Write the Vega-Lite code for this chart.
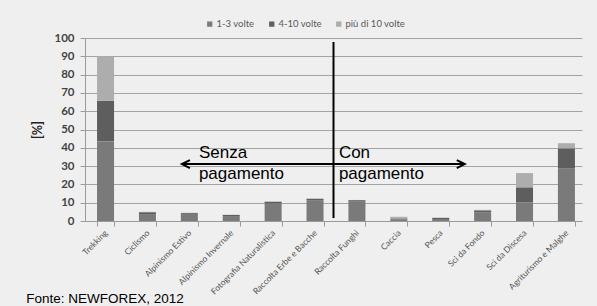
{
  "$schema": "https://vega.github.io/schema/vega-lite/v6.json",
  "width": 497,
  "height": 183,
  "autosize": {"type": "none"},
  "padding": {"left": 85, "top": 38, "right": 15, "bottom": 85},
  "background": "#efefef",
  "config": {
    "view": {"stroke": null},
    "font": "Lato",
    "axisY": {
      "titleFontSize": 12.5,
      "titleFontWeight": "bold",
      "titleColor": "#222222",
      "titlePadding": 9,
      "labelFontSize": 11.5,
      "labelFontWeight": "bold",
      "labelColor": "#444444",
      "labelPadding": 6,
      "labelOverlap": false,
      "tickColor": "#9a9a9a",
      "tickSize": 5,
      "domainColor": "#9a9a9a",
      "gridColor": "#a3a3a3",
      "gridWidth": 1
    }
  },
  "datasets": {
    "bars": [
      {"cat": "Trekking", "s": "1-3 volte", "v": 43.5},
      {"cat": "Trekking", "s": "4-10 volte", "v": 22.2},
      {"cat": "Trekking", "s": "più di 10 volte", "v": 24.3},
      {"cat": "Ciclismo", "s": "1-3 volte", "v": 3.8},
      {"cat": "Ciclismo", "s": "4-10 volte", "v": 1.0},
      {"cat": "Ciclismo", "s": "più di 10 volte", "v": 0.2},
      {"cat": "Alpinismo Estivo", "s": "1-3 volte", "v": 3.4},
      {"cat": "Alpinismo Estivo", "s": "4-10 volte", "v": 0.9},
      {"cat": "Alpinismo Estivo", "s": "più di 10 volte", "v": 0.2},
      {"cat": "Alpinismo Invernale", "s": "1-3 volte", "v": 2.7},
      {"cat": "Alpinismo Invernale", "s": "4-10 volte", "v": 0.6},
      {"cat": "Alpinismo Invernale", "s": "più di 10 volte", "v": 0.1},
      {"cat": "Fotografia Naturalistica", "s": "1-3 volte", "v": 9.6},
      {"cat": "Fotografia Naturalistica", "s": "4-10 volte", "v": 0.9},
      {"cat": "Fotografia Naturalistica", "s": "più di 10 volte", "v": 0.2},
      {"cat": "Raccolta Erbe e Bacche", "s": "1-3 volte", "v": 11.4},
      {"cat": "Raccolta Erbe e Bacche", "s": "4-10 volte", "v": 0.7},
      {"cat": "Raccolta Erbe e Bacche", "s": "più di 10 volte", "v": 0.2},
      {"cat": "Raccolta Funghi", "s": "1-3 volte", "v": 10.6},
      {"cat": "Raccolta Funghi", "s": "4-10 volte", "v": 0.8},
      {"cat": "Raccolta Funghi", "s": "più di 10 volte", "v": 0.1},
      {"cat": "Caccia", "s": "1-3 volte", "v": 0.9},
      {"cat": "Caccia", "s": "4-10 volte", "v": 0.5},
      {"cat": "Caccia", "s": "più di 10 volte", "v": 0.9},
      {"cat": "Pesca", "s": "1-3 volte", "v": 1.1},
      {"cat": "Pesca", "s": "4-10 volte", "v": 0.6},
      {"cat": "Pesca", "s": "più di 10 volte", "v": 0.1},
      {"cat": "Sci da Fondo", "s": "1-3 volte", "v": 4.8},
      {"cat": "Sci da Fondo", "s": "4-10 volte", "v": 1.0},
      {"cat": "Sci da Fondo", "s": "più di 10 volte", "v": 0.3},
      {"cat": "Sci da Discesa", "s": "1-3 volte", "v": 10.2},
      {"cat": "Sci da Discesa", "s": "4-10 volte", "v": 8.2},
      {"cat": "Sci da Discesa", "s": "più di 10 volte", "v": 7.8},
      {"cat": "Agriturismo e Malghe", "s": "1-3 volte", "v": 28.6},
      {"cat": "Agriturismo e Malghe", "s": "4-10 volte", "v": 11.1},
      {"cat": "Agriturismo e Malghe", "s": "più di 10 volte", "v": 2.8}
    ],
    "notes": [
      {"t": "Senza", "x": 2.75, "y": 34.3},
      {"t": "pagamento", "x": 2.75, "y": 23.0},
      {"t": "Con", "x": 6.13, "y": 34.3},
      {"t": "pagamento", "x": 6.13, "y": 23.0}
    ],
    "source": [{"t": "Fonte: NEWFOREX, 2012", "x": -1.42, "y": -44.8}],
    "hline": [{"x": 2.34, "x2": 9.17, "y": 31.1}],
    "vline": [{"x": 6.0, "y": 1.6, "y2": 97.8}],
    "heads": [
      {"x": 2.34, "y": 31.1, "dir": "left"},
      {"x": 9.17, "y": 31.1, "dir": "right"}
    ]
  },
  "layer": [
    {
      "data": {"name": "bars"},
      "mark": {"type": "bar"},
      "encoding": {
        "x": {
          "field": "cat",
          "type": "nominal",
          "sort": null,
          "scale": {"paddingInner": 0.594, "paddingOuter": 0.228, "align": 0.63},
          "axis": {
            "title": null,
            "labelAngle": -45,
            "labelAlign": "right",
            "labelBaseline": "middle",
            "labelFontSize": 8.5,
            "labelColor": "#555555",
            "labelPadding": 5,
            "tickBand": "extent",
            "tickColor": "#9a9a9a",
            "tickSize": 5,
            "domainColor": "#9a9a9a",
            "grid": false
          }
        },
        "y": {
          "field": "v",
          "type": "quantitative",
          "stack": "zero",
          "scale": {"domain": [0, 100], "nice": false},
          "axis": {"title": "[%]", "values": [0, 10, 20, 30, 40, 50, 60, 70, 80, 90, 100]}
        },
        "color": {
          "field": "s",
          "type": "nominal",
          "scale": {
            "domain": ["1-3 volte", "4-10 volte", "più di 10 volte"],
            "range": ["#7a7a7a", "#5e5e5e", "#adadad"]
          },
          "legend": {
            "title": null,
            "orient": "none",
            "direction": "horizontal",
            "legendX": 120,
            "legendY": -19,
            "symbolType": "square",
            "symbolSize": 28,
            "labelFontSize": 9.5,
            "labelColor": "#595959",
            "labelOffset": 2,
            "columnPadding": 12
          }
        },
        "order": {"field": "s", "sort": "ascending"}
      }
    },
    {
      "data": {"name": "vline"},
      "mark": {"type": "rule", "color": "#000000", "strokeWidth": 2},
      "encoding": {
        "x": {"field": "x", "type": "quantitative", "scale": {"domain": [0, 12], "nice": false, "zero": false}, "axis": null},
        "y": {"field": "y", "type": "quantitative", "axis": {"title": "[%]", "values": [0, 10, 20, 30, 40, 50, 60, 70, 80, 90, 100]}},
        "y2": {"field": "y2"}
      }
    },
    {
      "data": {"name": "hline"},
      "mark": {"type": "rule", "color": "#000000", "strokeWidth": 2},
      "encoding": {
        "x": {"field": "x", "type": "quantitative", "scale": {"domain": [0, 12], "nice": false, "zero": false}, "axis": null},
        "x2": {"field": "x2"},
        "y": {"field": "y", "type": "quantitative", "axis": {"title": "[%]", "values": [0, 10, 20, 30, 40, 50, 60, 70, 80, 90, 100]}}
      }
    },
    {
      "data": {"name": "heads"},
      "transform": [{"filter": "datum.dir === 'right'"}],
      "mark": {"type": "point", "shape": "M-1,-0.5L0,0L-1,0.5", "filled": false, "stroke": "#000000", "strokeWidth": 2, "size": 256, "opacity": 1},
      "encoding": {
        "x": {"field": "x", "type": "quantitative", "scale": {"domain": [0, 12], "nice": false, "zero": false}, "axis": null},
        "y": {"field": "y", "type": "quantitative", "axis": {"title": "[%]", "values": [0, 10, 20, 30, 40, 50, 60, 70, 80, 90, 100]}}
      }
    },
    {
      "data": {"name": "heads"},
      "transform": [{"filter": "datum.dir === 'left'"}],
      "mark": {"type": "point", "shape": "M1,-0.5L0,0L1,0.5", "filled": false, "stroke": "#000000", "strokeWidth": 2, "size": 256, "opacity": 1},
      "encoding": {
        "x": {"field": "x", "type": "quantitative", "scale": {"domain": [0, 12], "nice": false, "zero": false}, "axis": null},
        "y": {"field": "y", "type": "quantitative", "axis": {"title": "[%]", "values": [0, 10, 20, 30, 40, 50, 60, 70, 80, 90, 100]}}
      }
    },
    {
      "data": {"name": "notes"},
      "mark": {"type": "text", "align": "left", "baseline": "alphabetic", "font": "Liberation Sans", "fontSize": 17, "color": "#000000"},
      "encoding": {
        "x": {"field": "x", "type": "quantitative", "scale": {"domain": [0, 12], "nice": false, "zero": false}, "axis": null},
        "y": {"field": "y", "type": "quantitative", "axis": {"title": "[%]", "values": [0, 10, 20, 30, 40, 50, 60, 70, 80, 90, 100]}},
        "text": {"field": "t"}
      }
    },
    {
      "data": {"name": "source"},
      "mark": {"type": "text", "align": "left", "baseline": "alphabetic", "font": "Liberation Sans", "fontSize": 13.5, "color": "#000000", "clip": false},
      "encoding": {
        "x": {"field": "x", "type": "quantitative", "scale": {"domain": [0, 12], "nice": false, "zero": false}, "axis": null},
        "y": {"field": "y", "type": "quantitative", "axis": {"title": "[%]", "values": [0, 10, 20, 30, 40, 50, 60, 70, 80, 90, 100]}},
        "text": {"field": "t"}
      }
    }
  ],
  "resolve": {"scale": {"x": "independent"}}
}
